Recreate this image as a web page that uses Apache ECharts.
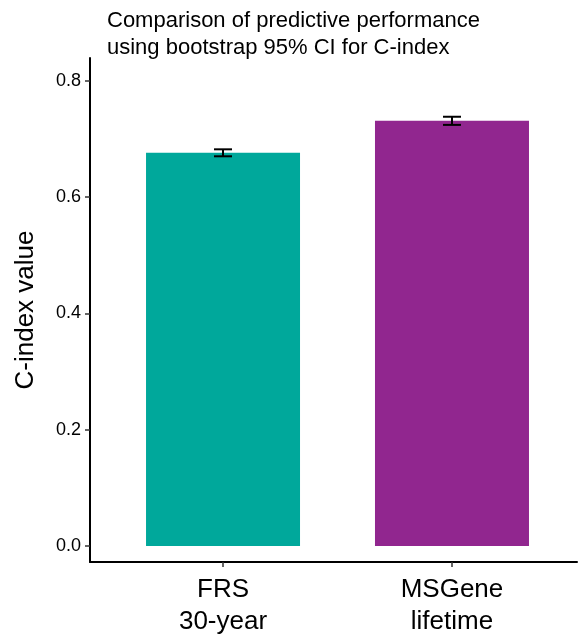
<!DOCTYPE html>
<html><head><meta charset="utf-8">
<script src="https://cdn.jsdelivr.net/npm/echarts@6/dist/echarts.min.js"></script>
<style>html,body{margin:0;padding:0;background:#fff}#c{width:578px;height:640px}</style>
</head><body><div id="c"></div>
<script>
const categories = ["FRS\n30-year", "MSGene\nlifetime"];
const positions = [1, 2];
const values = [0.676, 0.731];
const lower = [0.670, 0.724];
const upper = [0.682, 0.738];
const colors = ["#00A89B", "#91268F"];
const yTicks = [0, 0.2, 0.4, 0.6, 0.8];

const FONT = "Liberation Sans, Arial, Helvetica, sans-serif";
const chart = echarts.init(document.getElementById('c'));
chart.setOption({
  animation: false,
  title: {
    text: "Comparison of predictive performance\nusing bootstrap 95% CI for C-index",
    left: 102, top: 2,
    textStyle: { fontFamily: FONT, fontSize: 22, fontWeight: 'normal', color: '#000', lineHeight: 27 }
  },
  grid: { left: 90, right: 1, top: 58, bottom: 78, containLabel: false },
  xAxis: {
    type: 'value', min: 0.419, max: 2.546,
    splitLine: { show: false },
    axisLine: { show: true, onZero: false, lineStyle: { color: '#000', width: 2 } },
    axisTick: { show: true, customValues: positions, length: 5, lineStyle: { color: '#333', width: 1.5 } },
    axisLabel: {
      customValues: positions, margin: 12,
      formatter: v => categories[positions.indexOf(v)] || '',
      fontFamily: FONT, fontSize: 26, color: '#000', lineHeight: 32
    }
  },
  yAxis: {
    type: 'value', min: -0.0275, max: 0.839,
    name: 'C-index value', nameLocation: 'middle', nameGap: 51,
    nameTextStyle: { fontFamily: FONT, fontSize: 26, color: '#000' },
    splitLine: { show: false },
    axisLine: { show: true, onZero: false, lineStyle: { color: '#000', width: 2 } },
    axisTick: { show: true, customValues: yTicks, length: 5, lineStyle: { color: '#333', width: 1.5 } },
    axisLabel: {
      customValues: yTicks, margin: 9,
      formatter: v => v.toFixed(1),
      fontFamily: FONT, fontSize: 18, color: '#000'
    }
  },
  series: [
    {
      type: 'bar', barWidth: 154,
      data: positions.map((p, i) => ({ value: [p, values[i]], itemStyle: { color: colors[i] } }))
    },
    {
      type: 'custom',
      data: positions.map((p, i) => [p, lower[i], upper[i]]),
      renderItem: (params, api) => {
        const lo = api.coord([api.value(0), api.value(1)]);
        const hi = api.coord([api.value(0), api.value(2)]);
        const hw = 9;
        const st = { stroke: '#000', lineWidth: 2 };
        return { type: 'group', children: [
          { type: 'line', shape: { x1: lo[0], y1: lo[1], x2: hi[0], y2: hi[1] }, style: st },
          { type: 'line', shape: { x1: lo[0]-hw, y1: lo[1], x2: lo[0]+hw, y2: lo[1] }, style: st },
          { type: 'line', shape: { x1: hi[0]-hw, y1: hi[1], x2: hi[0]+hw, y2: hi[1] }, style: st }
        ]};
      },
      z: 5
    }
  ]
});
</script></body></html>
